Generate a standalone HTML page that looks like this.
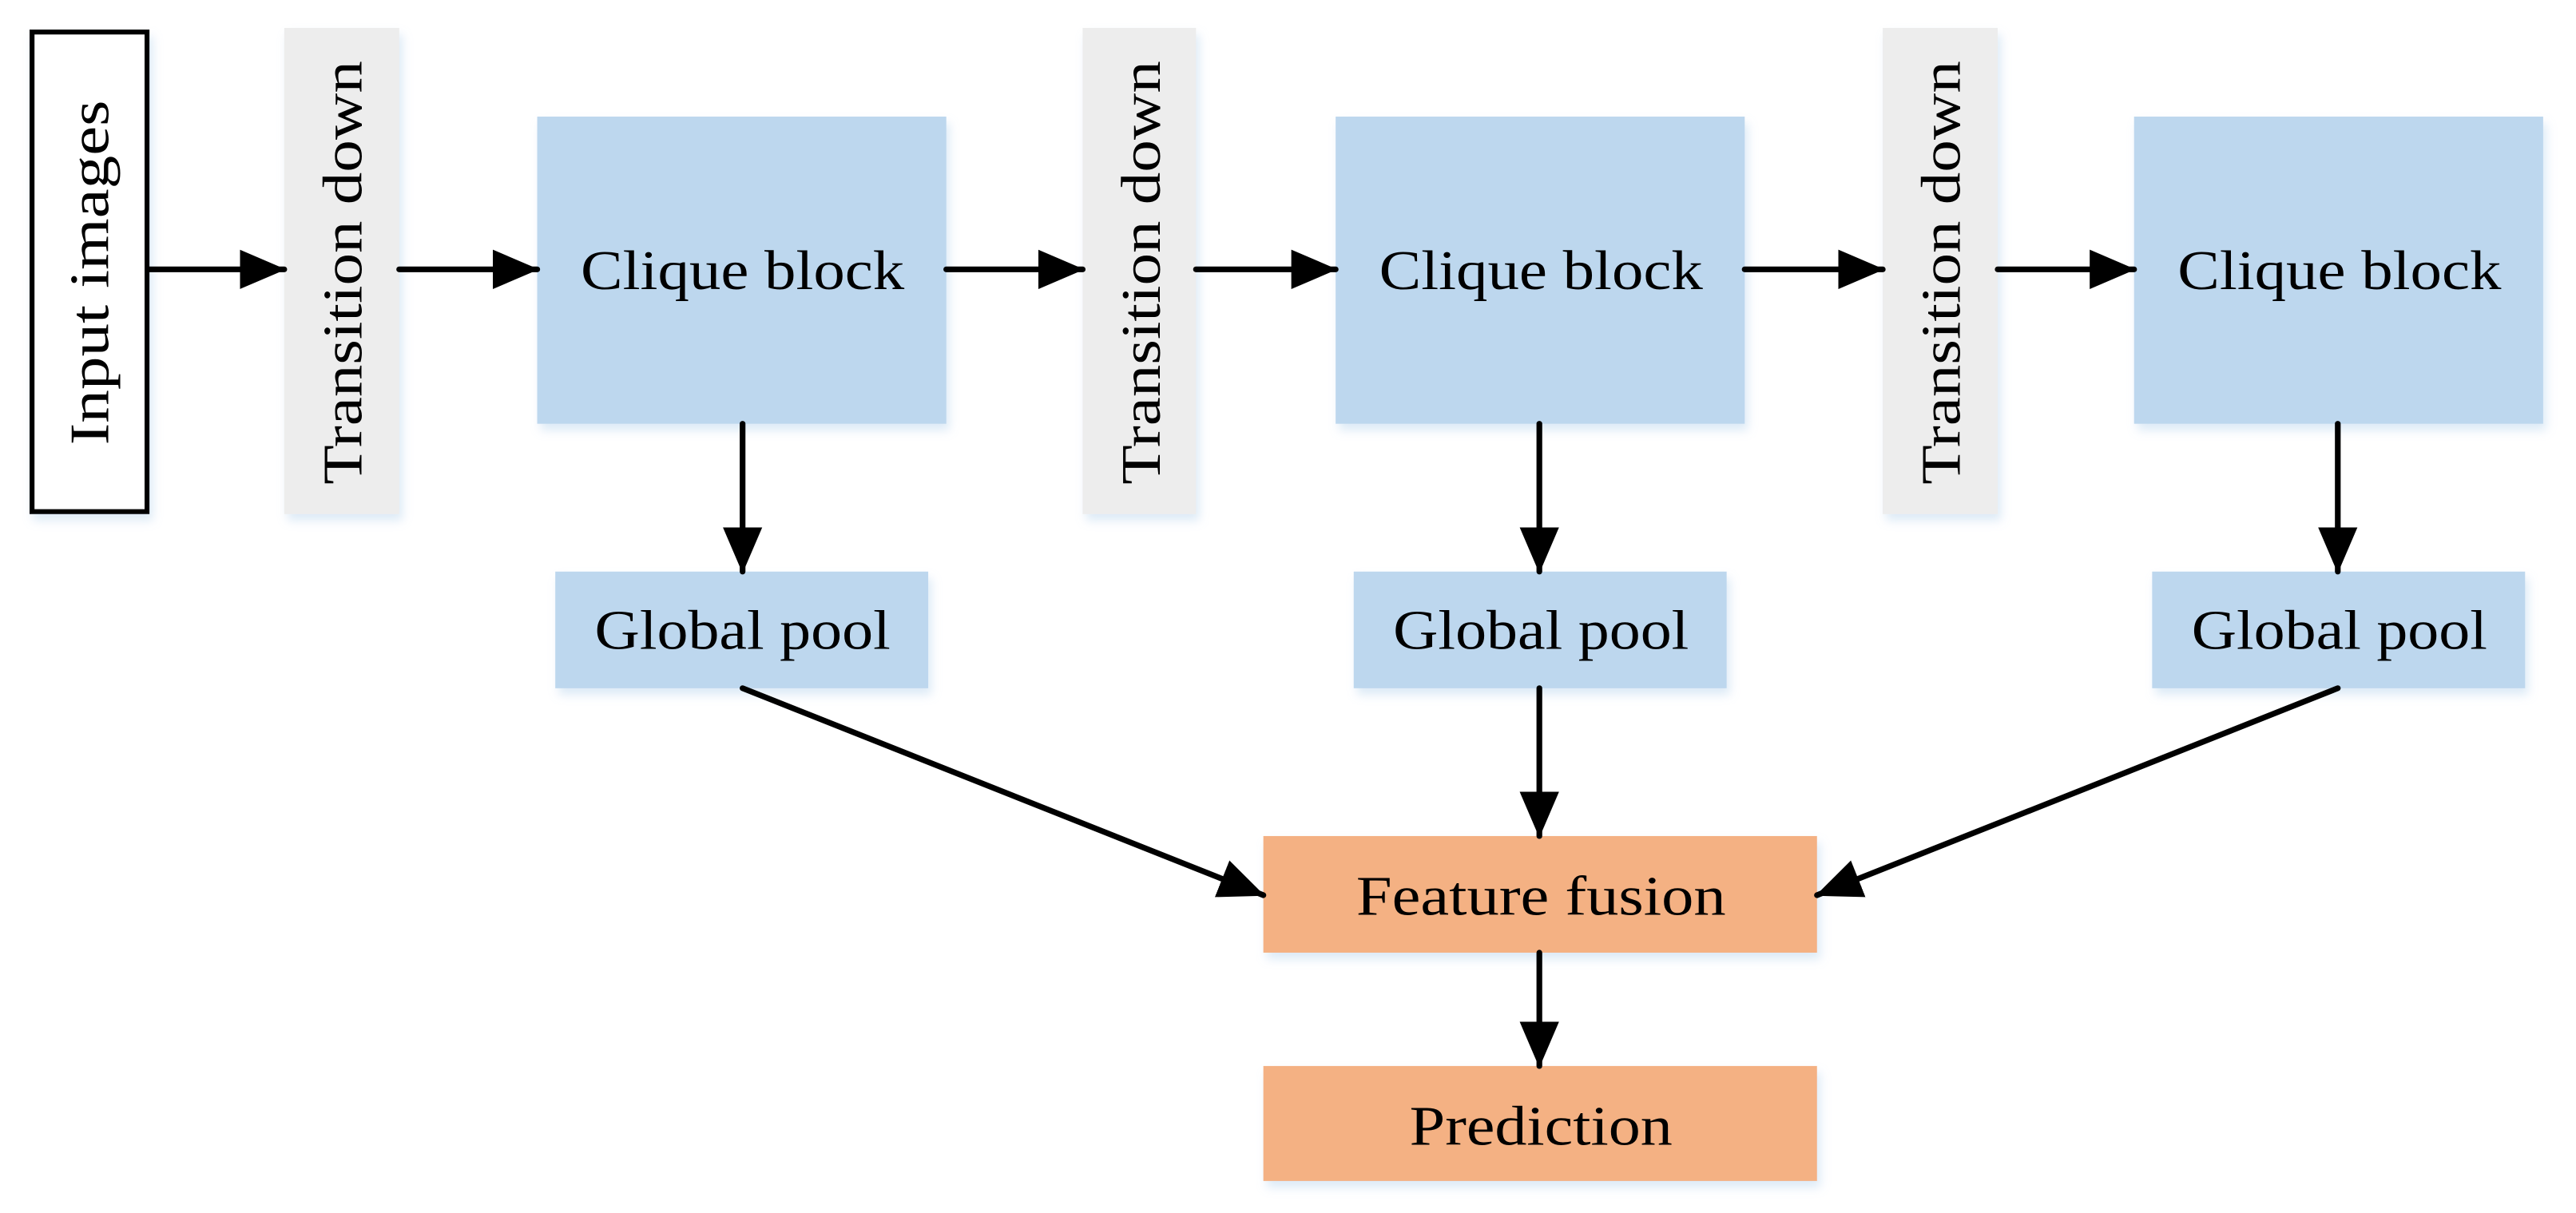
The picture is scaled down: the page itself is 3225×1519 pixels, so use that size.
<!DOCTYPE html>
<html><head><meta charset="utf-8"><style>
html,body{margin:0;padding:0;background:#fff;}
svg{display:block;}
text{font-family:"Liberation Serif",serif;fill:#000;}
</style></head><body>
<svg width="3225" height="1519" viewBox="0 0 1568 738.5" preserveAspectRatio="none" xmlns="http://www.w3.org/2000/svg">
<defs>
<marker id="a" markerUnits="userSpaceOnUse" markerWidth="28" markerHeight="26" refX="27" refY="12" orient="auto">
<path d="M0,0 L28,12 L0,24 Z" fill="#000"/>
</marker>
<filter id="s" x="-10%" y="-10%" width="130%" height="130%"><feDropShadow dx="2" dy="4" stdDeviation="3" flood-color="#9dc3e6" flood-opacity="0.35"/></filter>
</defs>
<g filter="url(#s)">
<rect x="19.5" y="19.5" width="70" height="292" fill="#fff" stroke="#000" stroke-width="3"/>
<rect x="173" y="17" width="70" height="296" fill="#ededed"/>
<rect x="659" y="17" width="69" height="296" fill="#ededed"/>
<rect x="1146" y="17" width="70" height="296" fill="#ededed"/>
<rect x="327" y="71" width="249" height="187" fill="#bdd7ee"/>
<rect x="813" y="71" width="249" height="187" fill="#bdd7ee"/>
<rect x="1299" y="71" width="249" height="187" fill="#bdd7ee"/>
<rect x="338" y="348" width="227" height="71" fill="#bdd7ee"/>
<rect x="824" y="348" width="227" height="71" fill="#bdd7ee"/>
<rect x="1310" y="348" width="227" height="71" fill="#bdd7ee"/>
<rect x="769" y="509" width="337" height="71" fill="#f4b183"/>
<rect x="769" y="649" width="337" height="70" fill="#f4b183"/>
</g>
<g font-size="34">
<text transform="translate(66,166) rotate(-90)" text-anchor="middle" textLength="210" lengthAdjust="spacingAndGlyphs">Input images</text>
<text transform="translate(220,166) rotate(-90)" text-anchor="middle" textLength="258" lengthAdjust="spacingAndGlyphs">Transition down</text>
<text transform="translate(706,166) rotate(-90)" text-anchor="middle" textLength="258" lengthAdjust="spacingAndGlyphs">Transition down</text>
<text transform="translate(1193,166) rotate(-90)" text-anchor="middle" textLength="258" lengthAdjust="spacingAndGlyphs">Transition down</text>
<text x="452" y="176" text-anchor="middle" textLength="197" lengthAdjust="spacingAndGlyphs">Clique block</text>
<text x="938" y="176" text-anchor="middle" textLength="197" lengthAdjust="spacingAndGlyphs">Clique block</text>
<text x="1424" y="176" text-anchor="middle" textLength="197" lengthAdjust="spacingAndGlyphs">Clique block</text>
<text x="452" y="395" text-anchor="middle" textLength="180" lengthAdjust="spacingAndGlyphs">Global pool</text>
<text x="938" y="395" text-anchor="middle" textLength="180" lengthAdjust="spacingAndGlyphs">Global pool</text>
<text x="1424" y="395" text-anchor="middle" textLength="180" lengthAdjust="spacingAndGlyphs">Global pool</text>
<text x="938" y="557" text-anchor="middle" textLength="225" lengthAdjust="spacingAndGlyphs">Feature fusion</text>
<text x="938" y="697" text-anchor="middle" textLength="160" lengthAdjust="spacingAndGlyphs">Prediction</text>
</g>
<g stroke="#000" stroke-width="3.5" stroke-linecap="round" fill="none" marker-end="url(#a)">
<line x1="90" y1="164" x2="173" y2="164"/>
<line x1="243" y1="164" x2="327" y2="164"/>
<line x1="576" y1="164" x2="659" y2="164"/>
<line x1="728" y1="164" x2="813" y2="164"/>
<line x1="1062" y1="164" x2="1146" y2="164"/>
<line x1="1216" y1="164" x2="1299" y2="164"/>
<line x1="452" y1="258" x2="452" y2="348"/>
<line x1="937" y1="258" x2="937" y2="348"/>
<line x1="1423" y1="258" x2="1423" y2="348"/>
<line x1="452" y1="419" x2="769" y2="545"/>
<line x1="937" y1="419" x2="937" y2="509"/>
<line x1="1423" y1="419" x2="1106" y2="545"/>
<line x1="937" y1="580" x2="937" y2="649"/>
</g>
</svg>
</body></html>
